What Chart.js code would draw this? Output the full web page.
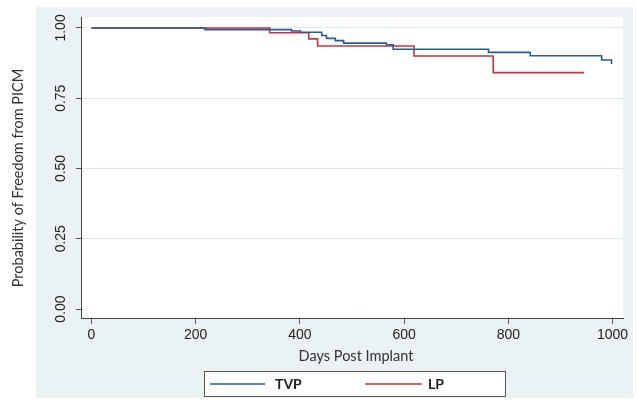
<!DOCTYPE html>
<html>
<head>
<meta charset="utf-8">
<script src="https://cdn.jsdelivr.net/npm/chart.js@4.4.0/dist/chart.umd.min.js"></script>
<style>
  html, body { margin: 0; padding: 0; background: #fff; }
  #wrap { width: 637px; height: 403px; }
</style>
</head>
<body>
<div id="wrap"><canvas id="km" width="637" height="403"></canvas></div>
<script>
// KM steps (day the curve drops, value after drop)
var tvpDays = [0, 218, 384, 401, 442, 451, 468, 484, 566, 579, 762, 842, 979, 998];
var tvpSurv = [1.0, 0.994, 0.989, 0.985, 0.973, 0.963, 0.955, 0.946, 0.940, 0.924, 0.913, 0.901, 0.886, 0.872];
var lpDays = [0, 342, 417, 434, 619, 771, 945];
var lpSurv = [1.0, 0.983, 0.961, 0.936, 0.900, 0.841, 0.841];
var xTicks = [0, 200, 400, 600, 800, 1000];
var yTicks = [0, 0.25, 0.5, 0.75, 1];

var blue = "#2b5b92";
var red = "#c4363d";
var tickFont = "14px 'Liberation Sans', Arial, sans-serif";
var titleFont = "14.5px Lato, 'Open Sans', sans-serif";

function toPoints(days, surv) {
  return days.map(function (d, i) { return { x: d, y: surv[i] }; });
}

// background panels, y labels, titles, legend
var decor = {
  id: "decor",
  beforeDraw: function (chart) {
    var ctx = chart.ctx, a = chart.chartArea;
    ctx.save();
    ctx.fillStyle = "#fff";
    ctx.fillRect(0, 0, chart.width, chart.height);
    ctx.fillStyle = "#eaf2f3";
    ctx.fillRect(36, 7, 597, 391);
    ctx.fillStyle = "#fff";
    ctx.fillRect(a.left, a.top, a.right - a.left, a.bottom - a.top);
    ctx.restore();
  },
  afterDraw: function (chart) {
    var ctx = chart.ctx, ys = chart.scales.y;
    ctx.save();
    ctx.fillStyle = "#222";
    ctx.font = tickFont;
    ctx.textAlign = "center";
    ctx.textBaseline = "middle";
    yTicks.forEach(function (v) {
      ctx.save();
      ctx.translate(61, ys.getPixelForValue(v));
      ctx.rotate(-Math.PI / 2);
      ctx.fillText(v.toFixed(2), 0, 0);
      ctx.restore();
    });
    // axis titles
    ctx.font = titleFont;
    ctx.fillStyle = "#333";
    ctx.save();
    ctx.translate(18, 178);
    ctx.rotate(-Math.PI / 2);
    ctx.fillText("Probability of Freedom from PICM", 0, 0);
    ctx.restore();
    ctx.fillText("Days Post Implant", 356, 356);
    // legend
    ctx.fillStyle = "#fff";
    ctx.fillRect(204, 371, 301, 25);
    ctx.strokeStyle = "#555";
    ctx.lineWidth = 1;
    ctx.strokeRect(204.5, 371.5, 301, 25);
    var ly = 384;
    var items = [
      { x1: 210, x2: 265, tx: 275, c: blue, t: chart.data.datasets[0].label },
      { x1: 365, x2: 422, tx: 428, c: red, t: chart.data.datasets[1].label }
    ];
    ctx.font = "bold 14px Lato, 'Open Sans', sans-serif";
    ctx.textAlign = "left";
    items.forEach(function (it) {
      ctx.strokeStyle = it.c;
      ctx.lineWidth = 1.5;
      ctx.beginPath();
      ctx.moveTo(it.x1, ly);
      ctx.lineTo(it.x2, ly);
      ctx.stroke();
      ctx.fillStyle = "#222";
      ctx.fillText(it.t, it.tx, ly);
    });
    ctx.restore();
  }
};

new Chart(document.getElementById("km"), {
  type: "line",
  data: {
    datasets: [
      {
        label: "TVP",
        data: toPoints(tvpDays, tvpSurv),
        borderColor: blue,
        borderWidth: 1.6,
        stepped: "before",
        pointRadius: 0,
        fill: false
      },
      {
        label: "LP",
        data: toPoints(lpDays, lpSurv),
        borderColor: red,
        borderWidth: 1.6,
        stepped: "before",
        pointRadius: 0,
        fill: false
      }
    ]
  },
  options: {
    responsive: false,
    animation: false,
    devicePixelRatio: 1,
    layout: { padding: { top: 17, right: 14, left: 0, bottom: 0 } },
    plugins: {
      legend: { display: false },
      tooltip: { enabled: false }
    },
    scales: {
      x: {
        type: "linear",
        min: -20,
        max: 1020,
        afterBuildTicks: function (s) { s.ticks = xTicks.map(function (v) { return { value: v }; }); },
        afterFit: function (s) { s.height = 85; },
        grid: { drawOnChartArea: false, tickLength: 6, tickColor: "#555" },
        border: { color: "#444", width: 1 },
        ticks: {
          padding: 3,
          maxRotation: 0,
          color: "#222",
          font: { family: "'Liberation Sans', Arial, sans-serif", size: 14 },
          callback: function (v) { return String(v); }
        }
      },
      y: {
        type: "linear",
        min: -0.032,
        max: 1.039,
        afterBuildTicks: function (s) { s.ticks = yTicks.map(function (v) { return { value: v }; }); },
        afterFit: function (s) { s.width = 81; },
        grid: {
          color: function (c) { return c.tick && c.tick.value === 0 ? "rgba(0,0,0,0)" : "#dfe9eb"; },
          tickLength: 5,
          tickColor: "#555"
        },
        border: { color: "#444", width: 1 },
        ticks: { display: false }
      }
    }
  },
  plugins: [decor]
});
</script>
</body>
</html>
